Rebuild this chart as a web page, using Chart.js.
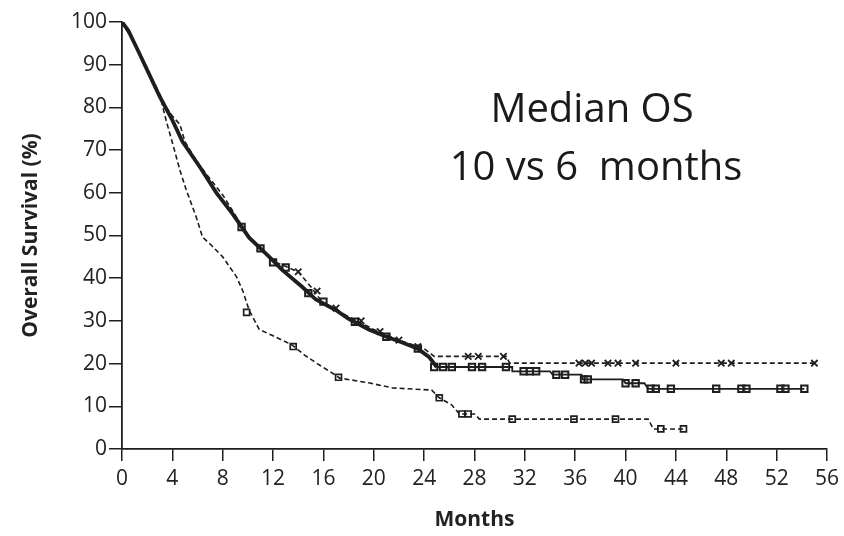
<!DOCTYPE html>
<html>
<head>
<meta charset="utf-8">
<script src="https://cdn.jsdelivr.net/npm/chart.js@4.4.0/dist/chart.umd.min.js"></script>
<style>
  html, body { margin: 0; padding: 0; background: #fff; }
  #wrap { width: 844px; height: 536px; }
</style>
</head>
<body>
<div id="wrap"><canvas id="km"></canvas></div>
<script>
// survival curves (months, % alive)
var solidT = [0, 0.5, 1.4, 2.2, 3, 4, 4.8, 6.2, 7.5, 8.8, 10.1, 11.7, 12.7, 14.3, 15.4, 17, 18, 19.6, 21, 22.2, 23.5, 24.4, 25, 31, 31, 34, 34.2, 36.5, 36.6, 39.8, 40, 41.5, 41.8, 54.2];
var solidS = [100, 98, 92.5, 87.5, 82.5, 77, 72, 66, 60, 55, 49.5, 45, 42, 38, 35, 32.5, 30.5, 28, 26.3, 25, 23.5, 21.5, 19.2, 19.2, 18.2, 18.2, 17.4, 17.4, 16.3, 16.3, 15.4, 15.4, 14.1, 14.1];

var upperT = [0, 1, 2, 3, 3.5, 4, 4.6, 5, 6, 8, 10, 12, 14, 15, 16, 18, 20, 22, 24, 24.8, 30.5, 30.8, 55];
var upperS = [100, 95, 89, 83, 80, 78, 76, 72, 67, 59.5, 50, 44, 41.5, 38, 34, 31, 28, 25.5, 23.5, 21.7, 21.7, 20.1, 20.1];

var lowerT = [0, 1, 2, 3, 3.5, 4.1, 4.6, 5.1, 5.9, 6.4, 7, 8, 9.1, 9.6, 10.1, 10.9, 12, 13.5, 14.5, 15.5, 16.7, 17.3, 19.6, 21.5, 24.6, 25.2, 26.2, 26.8, 28, 28.4, 41.8, 42.2, 44.8];
var lowerS = [100, 95, 89, 83, 77, 70.7, 65.3, 60.7, 54.3, 49.6, 48, 45, 40.3, 37, 32.5, 28, 26.5, 24.4, 22, 20, 17.8, 16.6, 15.5, 14.3, 13.8, 12, 10.3, 8.2, 8.2, 7, 7, 4.7, 4.7];

// censor marks
var solidCensT = [9.5, 11, 12, 13, 14.8, 16, 18.5, 21, 23.5, 24.8, 25.5, 26.2, 27.8, 28.6, 30.5, 31.9, 32.4, 32.9, 34.5, 35.2, 36.7, 37, 40, 40.8, 42, 42.4, 43.6, 47.2, 49.2, 49.6, 52.3, 52.7, 54.2];
var solidCensS = [52, 47, 43.7, 42.5, 36.5, 34.5, 29.8, 26.3, 23.5, 19.2, 19.2, 19.2, 19.2, 19.2, 19.2, 18.2, 18.2, 18.2, 17.4, 17.4, 16.3, 16.3, 15.4, 15.4, 14.1, 14.1, 14.1, 14.1, 14.1, 14.1, 14.1, 14.1, 14.1];

var upperCensT = [14, 15.5, 17, 19, 20.5, 22, 23.5, 27.5, 28.3, 30.3, 36.3, 36.8, 37.3, 38.6, 39.4, 40.8, 44, 47.6, 48.4, 55];
var upperCensS = [41.5, 37, 33, 30, 27.5, 25.5, 24, 21.7, 21.7, 21.7, 20.1, 20.1, 20.1, 20.1, 20.1, 20.1, 20.1, 20.1, 20.1, 20.1];

var lowerCensT = [9.9, 13.6, 17.2, 25.2, 27, 27.5, 31, 35.9, 39.2, 42.8, 44.6];
var lowerCensS = [32, 24, 16.8, 12, 8.2, 8.2, 7, 7, 7, 4.7, 4.7];

var xTicks = [0, 4, 8, 12, 16, 20, 24, 28, 32, 36, 40, 44, 48, 52, 56];
var yTicks = [0, 10, 20, 30, 40, 50, 60, 70, 80, 90, 100];

function pts(t, s) {
  var out = [];
  for (var i = 0; i < t.length; i++) out.push({x: t[i], y: s[i]});
  return out;
}

var ink = '#1e1e1e';

var noteText = {
  id: 'noteText',
  afterDraw: function(chart) {
    var ctx = chart.ctx;
    ctx.save();
    ctx.fillStyle = '#1a1a1a';
    ctx.font = '40px "Open Sans"';
    ctx.textAlign = 'center';
    ctx.textBaseline = 'alphabetic';
    ctx.fillText('Median OS', 592, 122);
    ctx.fillText('10 vs 6  months', 596, 180);
    ctx.restore();
  }
};

new Chart(document.getElementById('km'), {
  type: 'line',
  data: {
    datasets: [
      {
        data: pts(solidT, solidS),
        borderColor: ink,
        pointRadius: 0,
        fill: false,
        segment: {
          borderWidth: function(c) { return c.p1.parsed.x <= 25 ? 3.8 : 1.8; }
        }
      },
      {
        data: pts(upperT, upperS),
        borderColor: ink,
        borderWidth: 1.6,
        borderDash: [5, 3],
        pointRadius: 0,
        fill: false
      },
      {
        data: pts(lowerT, lowerS),
        borderColor: ink,
        borderWidth: 1.6,
        borderDash: [5, 3],
        pointRadius: 0,
        fill: false
      },
      {
        type: 'scatter',
        data: pts(solidCensT, solidCensS),
        pointStyle: 'rect',
        pointRadius: 4.5,
        borderColor: ink,
        borderWidth: 2,
        backgroundColor: 'rgba(255,255,255,0.3)'
      },
      {
        type: 'scatter',
        data: pts(upperCensT, upperCensS),
        pointStyle: 'crossRot',
        pointRadius: 4.5,
        borderColor: ink,
        borderWidth: 1.8
      },
      {
        type: 'scatter',
        data: pts(lowerCensT, lowerCensS),
        pointStyle: 'rect',
        pointRadius: 4.2,
        borderColor: ink,
        borderWidth: 1.7,
        backgroundColor: '#fff'
      }
    ]
  },
  options: {
    responsive: true,
    maintainAspectRatio: false,
    animation: false,
    layout: { padding: { left: 10, right: 15, top: 22, bottom: 0 } },
    plugins: { legend: { display: false }, tooltip: { enabled: false } },
    scales: {
      x: {
        type: 'linear',
        min: 0,
        max: 56,
        afterFit: function(s) { s.height = 87; },
        afterBuildTicks: function(s) { s.ticks = xTicks.map(function(v) { return {value: v}; }); },
        grid: { drawOnChartArea: false, drawTicks: true, tickLength: 12, color: ink, lineWidth: 1.5 },
        border: { color: ink, width: 1.8 },
        ticks: { color: '#222', padding: 5, font: { family: 'Open Sans', size: 21 }, maxRotation: 0 },
        title: { display: true, text: 'Months', color: '#222', padding: { top: 0, bottom: 3 }, font: { family: 'Open Sans', size: 21, weight: 'bold' } }
      },
      y: {
        min: 0,
        max: 100,
        afterFit: function(s) { s.width = 112; },
        afterBuildTicks: function(s) { s.ticks = yTicks.map(function(v) { return {value: v}; }); },
        grid: { drawOnChartArea: false, drawTicks: true, tickLength: 13, color: ink, lineWidth: 1.5 },
        border: { color: ink, width: 1.8 },
        ticks: { color: '#222', padding: 2, font: { family: 'Open Sans', size: 21 } },
        title: { display: true, text: 'Overall Survival (%)', color: '#222', padding: { top: 8, bottom: 0 }, font: { family: 'Open Sans', size: 21, weight: 'bold' } }
      }
    }
  },
  plugins: [noteText]
});
</script>
</body>
</html>
